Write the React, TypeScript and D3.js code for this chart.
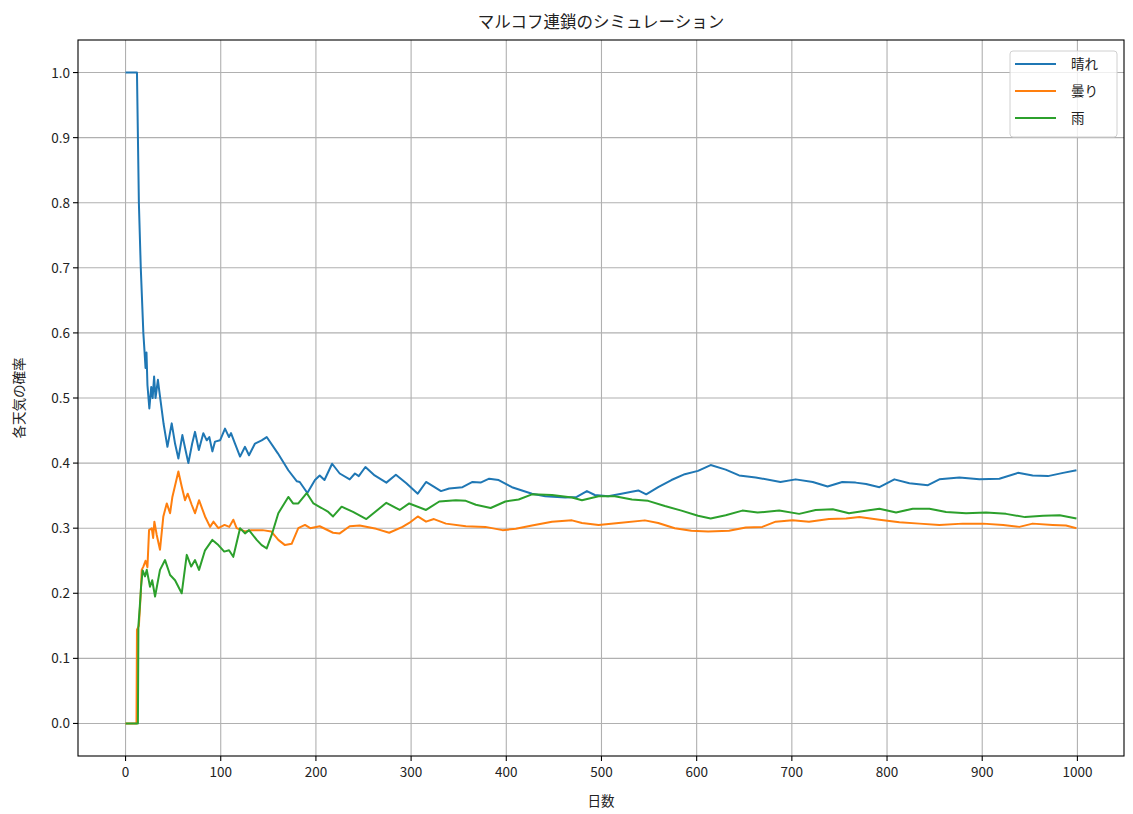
import React from "react";
import * as d3 from "d3";

const title = "マルコフ連鎖のシミュレーション";
const xLabel = "日数";
const yLabel = "各天気の確率";
const seriesNames = ["晴れ", "曇り", "雨"];
const colors = ["#1f77b4", "#ff7f0e", "#2ca02c"];
const xTicks = [0, 100, 200, 300, 400, 500, 600, 700, 800, 900, 1000];
const yTicks = [0.0, 0.1, 0.2, 0.3, 0.4, 0.5, 0.6, 0.7, 0.8, 0.9, 1.0];

// [day, probability]
const sunny: [number, number][] = [
  [0, 1.0], [12, 1.0], [13, 0.9], [14, 0.8], [16, 0.7], [18.7, 0.6], [20, 0.57], [21, 0.546],
  [22, 0.57], [23, 0.52], [25, 0.484], [27, 0.517], [28.5, 0.5], [30, 0.533], [31.5, 0.5],
  [34, 0.528], [35.5, 0.51], [40, 0.46], [44, 0.425], [48.5, 0.461], [52, 0.43], [55.5, 0.407],
  [59.7, 0.443], [63, 0.42], [66, 0.4], [70, 0.43], [73, 0.448], [77, 0.42], [81.7, 0.446],
  [85.3, 0.435], [88, 0.44], [91.2, 0.418], [94, 0.433], [99.3, 0.435], [104.5, 0.453],
  [108.7, 0.44], [110.8, 0.446], [115, 0.43], [120.3, 0.41], [125.5, 0.425], [129.7, 0.412],
  [136, 0.43], [143, 0.435], [148.3, 0.44], [160, 0.415], [171, 0.389], [180, 0.372],
  [183, 0.371], [191, 0.354], [199, 0.374], [204, 0.381], [209, 0.374], [217, 0.399],
  [225, 0.384], [235.5, 0.375], [241, 0.384], [245, 0.38], [252, 0.394], [261.7, 0.381],
  [274, 0.37], [284, 0.382], [295, 0.369], [307, 0.353], [315.7, 0.371], [331.4, 0.357],
  [340, 0.361], [354, 0.363], [364.5, 0.371], [373, 0.37], [382, 0.376], [392, 0.374],
  [406, 0.363], [427, 0.353], [441, 0.349], [462, 0.347], [474, 0.348], [484.7, 0.357],
  [493, 0.351], [507, 0.349], [521, 0.353], [531.7, 0.356], [538.7, 0.358], [547, 0.352],
  [559.6, 0.363], [573.5, 0.374], [587.5, 0.383], [601.4, 0.388], [614.7, 0.397],
  [630.5, 0.39], [644.6, 0.381], [662, 0.378], [688, 0.371], [704, 0.375], [722, 0.371],
  [737.5, 0.364], [753, 0.371], [767, 0.37], [778, 0.368], [792, 0.363], [807.7, 0.375],
  [823.5, 0.369], [843, 0.366], [855, 0.375], [876, 0.378], [897, 0.375], [918, 0.376],
  [937.5, 0.385], [953, 0.381], [969, 0.38], [985, 0.385], [999, 0.389],
];

const cloudy: [number, number][] = [
  [0, 0], [11.5, 0], [12, 0.144], [14, 0.15], [16, 0.2], [17, 0.236], [18.7, 0.241],
  [21, 0.25], [23, 0.24], [24.7, 0.297], [27.5, 0.3], [29, 0.285], [30.3, 0.31], [32.7, 0.29],
  [36.2, 0.267], [39.7, 0.318], [43.3, 0.338], [46.8, 0.323], [49.2, 0.348], [55.5, 0.387],
  [59, 0.364], [62.5, 0.343], [65.3, 0.353], [69.5, 0.336], [73, 0.323], [77.2, 0.343],
  [83.5, 0.318], [88.8, 0.302], [92.3, 0.31], [97.5, 0.3], [104, 0.305], [109, 0.302],
  [113.2, 0.313], [116.7, 0.3], [125.5, 0.295], [132, 0.297], [139, 0.297], [144, 0.297],
  [153, 0.295], [160.5, 0.282], [167.5, 0.274], [174.5, 0.276], [181.5, 0.3], [188.5, 0.305],
  [194, 0.3], [204, 0.303], [218, 0.293], [225, 0.292], [235.5, 0.303], [246, 0.304],
  [263.4, 0.299], [277, 0.293], [291, 0.302], [298, 0.308], [307, 0.318], [315.7, 0.31],
  [324, 0.314], [336.6, 0.307], [357.5, 0.303], [378, 0.302], [396, 0.297], [410, 0.299],
  [427, 0.304], [448, 0.31], [469, 0.312], [479.5, 0.308], [497, 0.305], [518, 0.308],
  [545.6, 0.312], [559.6, 0.308], [577, 0.3], [594.4, 0.296], [612, 0.295], [634, 0.296],
  [651.6, 0.301], [669, 0.302], [683, 0.31], [700.7, 0.312], [718, 0.31], [739, 0.314],
  [757, 0.315], [771, 0.317], [792, 0.313], [813, 0.309], [834, 0.307], [855, 0.305],
  [879.6, 0.307], [900.7, 0.307], [922, 0.305], [939, 0.302], [953, 0.307], [974, 0.305],
  [988, 0.304], [999, 0.3],
];

const rainy: [number, number][] = [
  [0, 0], [13, 0], [13.5, 0.15], [15, 0.18], [16.3, 0.21], [18, 0.235], [20.5, 0.226],
  [22.3, 0.236], [25.7, 0.21], [28, 0.22], [31, 0.195], [36.2, 0.236], [41.5, 0.251],
  [46.8, 0.228], [52, 0.22], [59, 0.2], [64.3, 0.259], [69, 0.241], [73, 0.251], [77.2, 0.236],
  [83.5, 0.266], [91.2, 0.282], [97.5, 0.274], [103.7, 0.264], [108.7, 0.266], [113.2, 0.256],
  [120.3, 0.3], [125.5, 0.292], [129.7, 0.297], [137.8, 0.282], [143, 0.274], [148.3, 0.269],
  [153.6, 0.29], [160.5, 0.323], [171, 0.348], [176, 0.338], [181.5, 0.338], [190.3, 0.354],
  [197.4, 0.338], [206, 0.331], [213, 0.325], [218, 0.318], [227, 0.333], [239, 0.325],
  [253, 0.314], [274, 0.339], [288, 0.328], [298, 0.338], [315.7, 0.328], [329.6, 0.341],
  [347, 0.343], [357.5, 0.342], [368, 0.336], [383.6, 0.331], [399, 0.341], [413, 0.344],
  [427, 0.352], [448, 0.351], [469, 0.347], [479.5, 0.343], [497, 0.349], [514, 0.349],
  [532, 0.344], [549, 0.342], [566.6, 0.334], [584, 0.327], [601.4, 0.319], [614.7, 0.315],
  [630.5, 0.32], [648, 0.327], [664, 0.324], [686.7, 0.327], [707.7, 0.322], [725, 0.328],
  [743, 0.329], [760, 0.323], [774, 0.326], [792, 0.33], [809.5, 0.324], [827, 0.33],
  [844.5, 0.33], [862, 0.325], [883, 0.323], [904, 0.324], [925, 0.322], [945, 0.317],
  [964, 0.319], [981.4, 0.32], [999, 0.315],
];

const allSeries = [sunny, cloudy, rainy];

const W = 1133;
const H = 814;
const L = 78, R = 1124, T = 40, B = 756;
const FONT = "'Noto Sans CJK JP', 'Noto Sans', sans-serif";

export default function App() {
  const x = d3.scaleLinear().domain([-49.95, 1048.95]).range([L, R]);
  const y = d3.scaleLinear().domain([-0.05, 1.05]).range([B, T]);
  const line = d3
    .line<[number, number]>()
    .x((d) => x(d[0]))
    .y((d) => y(d[1]));

  const legX = 1010, legY = 51, legW = 107, legH = 86;

  return (
    <svg
      width={W}
      height={H}
      style={{ position: "absolute", left: 0, top: 0, background: "#fff" }}
      fontFamily={FONT}
    >
      <rect x={0} y={0} width={W} height={H} fill="#fff" />
      {/* grid */}
      <g stroke="#b0b0b0" strokeWidth={1.1}>
        {xTicks.map((t) => (
          <line key={"gx" + t} x1={x(t)} x2={x(t)} y1={T} y2={B} />
        ))}
        {yTicks.map((t) => (
          <line key={"gy" + t} x1={L} x2={R} y1={y(t)} y2={y(t)} />
        ))}
      </g>
      {/* series */}
      <g fill="none" strokeWidth={2} strokeLinejoin="round">
        {allSeries.map((s, i) => (
          <path key={i} d={line(s) || ""} stroke={colors[i]} />
        ))}
      </g>
      {/* spines */}
      <rect x={L} y={T} width={R - L} height={B - T} fill="none" stroke="#000" strokeWidth={1.1} />
      {/* x ticks */}
      <g fontSize={13.5} fill="#222">
        {xTicks.map((t) => (
          <g key={"xt" + t}>
            <line x1={x(t)} x2={x(t)} y1={B} y2={B + 5} stroke="#000" strokeWidth={1.1} />
            <text x={x(t)} y={B + 21} textAnchor="middle">
              {t}
            </text>
          </g>
        ))}
        {yTicks.map((t) => (
          <g key={"yt" + t}>
            <line x1={L - 5} x2={L} y1={y(t)} y2={y(t)} stroke="#000" strokeWidth={1.1} />
            <text x={L - 8} y={y(t) + 5} textAnchor="end">
              {t.toFixed(1)}
            </text>
          </g>
        ))}
      </g>
      {/* labels */}
      <text x={(L + R) / 2} y={28} textAnchor="middle" fontSize={16.5} fill="#222">
        {title}
      </text>
      <text x={(L + R) / 2} y={806} textAnchor="middle" fontSize={13.5} fill="#222">
        {xLabel}
      </text>
      <text
        transform={`translate(24, ${(T + B) / 2}) rotate(-90)`}
        textAnchor="middle"
        fontSize={13.5}
        fill="#222"
      >
        {yLabel}
      </text>
      {/* legend */}
      <rect
        x={legX}
        y={legY}
        width={legW}
        height={legH}
        rx={3}
        fill="#fff"
        fillOpacity={0.8}
        stroke="#d0d0d0"
        strokeWidth={1}
      />
      {seriesNames.map((n, i) => (
        <g key={n}>
          <line
            x1={legX + 5}
            x2={legX + 46}
            y1={legY + 13 + i * 27}
            y2={legY + 13 + i * 27}
            stroke={colors[i]}
            strokeWidth={2}
          />
          <text x={legX + 61} y={legY + 18 + i * 27} fontSize={13.5} fill="#222">
            {n}
          </text>
        </g>
      ))}
    </svg>
  );
}
